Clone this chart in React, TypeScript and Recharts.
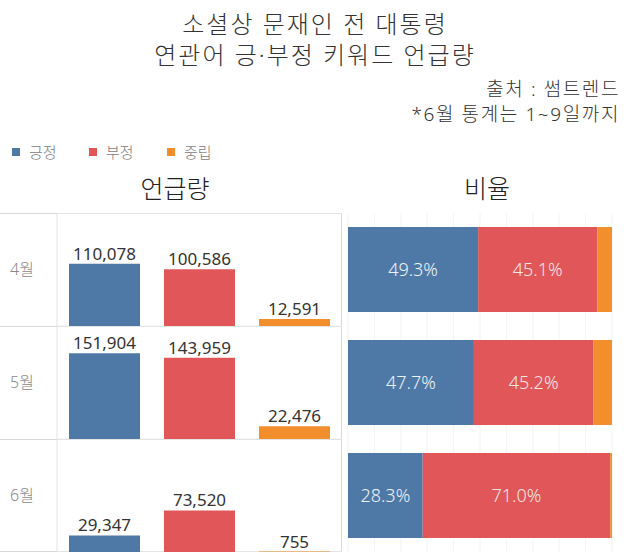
import { Bar, BarChart, CartesianGrid, Cell, LabelList, XAxis, YAxis } from 'recharts';

const categories = ['긍정', '부정', '중립'];
const colors = ['#4e79a7', '#e15759', '#f28e2b'];
const months = ['4월', '5월', '6월'];

const aprCounts = [110078, 100586, 12591];
const mayCounts = [151904, 143959, 22476];
const junCounts = [29347, 73520, 755];

const posPct = [49.3, 47.7, 28.3];
const negPct = [45.1, 45.2, 71.0];
const neuPct = [5.6, 7.1, 0.7];

const countTicks = [0, 50000, 100000, 150000, 200000];
const pctTicks = [0, 10, 20, 30, 40, 50, 60, 70, 80, 90, 100];

const FONT = "'Noto Sans', 'Noto Sans CJK KR', sans-serif";
const ROW_H = 113;

function CountRow({ month, values }: { month: string; values: number[] }) {
  const data = categories.map((c, i) => ({ name: c, value: values[i] }));
  return (
    <BarChart width={342} height={ROW_H} data={data} margin={{ top: 0, right: 0, bottom: 0, left: 0 }}>
      <CartesianGrid stroke="#f0f0f0" vertical={false} />
      <XAxis dataKey="name" hide />
      <YAxis
        domain={[0, 200000]}
        ticks={countTicks}
        width={57}
        tick={false}
        tickLine={false}
        axisLine={{ stroke: '#e2e2e2' }}
        label={{ value: month, position: 'insideLeft', offset: 10, fill: '#8a8a8a', fontSize: 16, fontFamily: FONT, fontWeight: 300 }}
      />
      <Bar dataKey="value" barSize={71} isAnimationActive={false}>
        {data.map((d, i) => (
          <Cell key={d.name} fill={colors[i]} />
        ))}
        <LabelList
          dataKey="value"
          position="top"
          offset={4}
          fill="#333"
          fontSize={17}
          fontFamily={FONT}
          style={{ fontWeight: 400 }}
          formatter={(v: any) => Number(v).toLocaleString('en-US')}
        />
      </Bar>
    </BarChart>
  );
}

export default function App() {
  const ratioData = months.map((m, i) => ({ month: m, pos: posPct[i], neg: negPct[i], neu: neuPct[i] }));
  const pctFmt = (v: any) => `${Number(v).toFixed(1)}%`;
  const rows = [aprCounts, mayCounts, junCounts];

  return (
    <div style={{ position: 'absolute', left: 0, top: 0, width: 630, height: 557, background: '#fff', fontFamily: FONT, fontWeight: 300, color: '#333', overflow: 'hidden' }}>
      <div style={{ position: 'absolute', left: 0, width: 630, top: 8, textAlign: 'center', fontSize: 24, lineHeight: '31px', letterSpacing: 2, color: '#333' }}>
        <div>소셜상 문재인 전 대통령</div>
        <div>연관어 긍·부정 키워드 언급량</div>
      </div>
      <div style={{ position: 'absolute', right: 10, top: 77, textAlign: 'right', fontSize: 19, lineHeight: '25px', letterSpacing: 1.6, color: '#333' }}>
        <div>출처 : 썸트렌드</div>
        <div>*6월 통계는 1~9일까지</div>
      </div>

      {categories.map((c, i) => (
        <div key={c} style={{ position: 'absolute', top: 141, left: [12, 89, 167][i], display: 'flex', alignItems: 'center', fontSize: 15, color: '#7a7a7a' }}>
          <span style={{ display: 'inline-block', width: 8, height: 8, background: colors[i], marginRight: 9 }} />
          {c}
        </div>
      ))}

      <div style={{ position: 'absolute', left: 0, width: 350, top: 169, textAlign: 'center', fontSize: 25, color: '#222' }}>언급량</div>
      <div style={{ position: 'absolute', left: 342, width: 290, top: 169, textAlign: 'center', fontSize: 25, color: '#222' }}>비율</div>

      {rows.map((vals, i) => (
        <div
          key={months[i]}
          style={{
            position: 'absolute',
            left: 0,
            top: 213 + i * ROW_H,
            width: 342,
            height: ROW_H,
            boxSizing: 'border-box',
            borderTop: '1px solid #d8d8d8',
            borderRight: '1px solid #d8d8d8',
            borderBottom: i === 2 ? '1px solid #d8d8d8' : 'none',
          }}
        >
          <div style={{ position: 'absolute', left: 0, top: -1 }}>
            <CountRow month={months[i]} values={vals} />
          </div>
        </div>
      ))}

      <div style={{ position: 'absolute', left: 342, top: 213 }}>
        <BarChart
          width={288}
          height={ROW_H * 3}
          data={ratioData}
          layout="vertical"
          margin={{ top: 0, right: 18, bottom: 0, left: 6 }}
        >
          <CartesianGrid stroke="#f4f4f4" horizontal={false} />
          <XAxis type="number" domain={[0, 100]} ticks={pctTicks} hide />
          <YAxis type="category" dataKey="month" hide />
          <Bar dataKey="pos" stackId="a" fill={colors[0]} barSize={85} isAnimationActive={false}>
            <LabelList dataKey="pos" position="center" fill="#eef1f5" fontSize={18} fontFamily={FONT} fontWeight={300} formatter={pctFmt} />
          </Bar>
          <Bar dataKey="neg" stackId="a" fill={colors[1]} barSize={85} isAnimationActive={false}>
            <LabelList dataKey="neg" position="center" fill="#f5e6e6" fontSize={18} fontFamily={FONT} fontWeight={300} formatter={pctFmt} />
          </Bar>
          <Bar dataKey="neu" stackId="a" fill={colors[2]} barSize={85} isAnimationActive={false} />
        </BarChart>
      </div>
    </div>
  );
}
